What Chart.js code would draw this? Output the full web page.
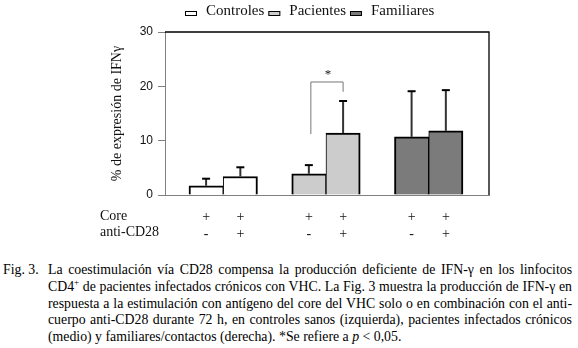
<!DOCTYPE html>
<html>
<head>
<meta charset="utf-8">
<script src="https://cdn.jsdelivr.net/npm/chart.js@4.4.0/dist/chart.umd.min.js"></script>
<style>
  html, body { margin: 0; padding: 0; background: #fff; }
  body { width: 578px; height: 348px; position: relative; overflow: hidden; }
  #wrap { position: absolute; left: 0; top: 0; width: 578px; height: 250px; }
  #caption {
    position: absolute; left: 0; top: 262px; width: 572px;
    font-family: "Liberation Serif", serif; font-size: 13.8px; line-height: 16.8px; color: #000;
  }
  #caption .fig { position: absolute; left: 3px; top: 0; }
  #caption .body { margin-left: 48px; }
  #caption .ln { text-align: justify; text-align-last: justify; white-space: nowrap; }
  #caption .ln.last { text-align-last: left; }
</style>
</head>
<body>
<div id="wrap"><canvas id="grafico"></canvas></div>
<div id="caption">
  <span class="fig">Fig. 3.</span>
  <div class="body">
    <div class="ln">La coestimulación vía CD28 compensa la producción deficiente de IFN-γ en los linfocitos</div>
    <div class="ln">CD4<sup style="font-size:9px;line-height:0">+</sup> de pacientes infectados crónicos con VHC. La Fig. 3 muestra la producción de IFN-γ en</div>
    <div class="ln">respuesta a la estimulación con antígeno del core del VHC solo o en combinación con el anti-</div>
    <div class="ln">cuerpo anti-CD28 durante 72 h, en controles sanos (izquierda), pacientes infectados crónicos</div>
    <div class="ln last">(medio) y familiares/contactos (derecha). *Se refiere a <i>p</i> &lt; 0,05.</div>
  </div>
</div>
<script>
// grupos y condiciones
const grupos = ["Controles", "Pacientes", "Familiares"];
const filas = ["Core", "anti-CD28"];
const marcasCore = ["+", "+"];
const marcasCD28 = ["-", "+"];

// % de expresión de IFNγ (media) y error
const controles = [1.7, 3.4];
const pacientes = [3.9, 11.4];
const familiares = [10.7, 11.8];
const errControles = [1.3, 1.7];
const errPacientes = [1.6, 5.9];
const errFamiliares = [8.4, 7.5];

const yTicks = [0, 10, 20, 30];

// corchete de significación (Pacientes): pata izq, techo, pata der
const sigGrupo = 1;
const sigNiveles = [11.2, 20.8, 19.0];

const colores = ["#ffffff", "#cccccc", "#7b7b7b"];
const serif = "'Liberation Serif', 'Times New Roman', serif";

const series = [controles, pacientes, familiares];
const errores = [errControles, errPacientes, errFamiliares];

// posicion en el eje x: dos barras por grupo y un hueco entre grupos
function posX(g, k) { return 3 * g + k + 1; }

const xPos = [];
grupos.forEach((g, i) => filas.forEach((f, k) => xPos.push(posX(i, k))));

const datasets = grupos.map((g, i) => ({
  label: g,
  data: series[i].map((v, k) => ({ x: posX(i, k), y: v })),
  errores: errores[i],
  backgroundColor: colores[i],
  borderColor: "#000",
  borderWidth: (ctx) => ctx.dataIndex === 0
    ? { top: 2, left: 2, right: 1, bottom: 0 }
    : { top: 2, left: 1, right: 2, bottom: 0 },
  grouped: false,
  barPercentage: 1,
  categoryPercentage: 1
}));

const errorBars = {
  id: "errorBars",
  afterDatasetsDraw(chart) {
    const ctx = chart.ctx;
    const y = chart.scales.y;
    ctx.save();
    chart.data.datasets.forEach((ds, i) => {
      const meta = chart.getDatasetMeta(i);
      meta.data.forEach((bar, k) => {
        const top = y.getPixelForValue(ds.data[k].y + ds.errores[k]);
        ctx.strokeStyle = "#333";
        ctx.lineWidth = 2;
        ctx.beginPath();
        ctx.moveTo(bar.x, bar.y);
        ctx.lineTo(bar.x, top);
        ctx.stroke();
        ctx.strokeStyle = "#000";
        ctx.beginPath();
        ctx.moveTo(bar.x - 4, top);
        ctx.lineTo(bar.x + 4, top);
        ctx.stroke();
      });
    });
    ctx.restore();
  }
};

const marco = {
  id: "marco",
  afterDraw(chart) {
    const { ctx, chartArea: a, scales } = chart;
    ctx.save();
    // borde superior y derecho
    ctx.strokeStyle = "#000";
    ctx.lineWidth = 1.3;
    ctx.beginPath();
    ctx.moveTo(a.left, a.top);
    ctx.lineTo(a.right, a.top);
    ctx.lineTo(a.right, a.bottom);
    ctx.stroke();

    // corchete de significación
    const x1 = scales.x.getPixelForValue(posX(sigGrupo, 0));
    const x2 = scales.x.getPixelForValue(posX(sigGrupo, 1));
    const yL = scales.y.getPixelForValue(sigNiveles[0]);
    const yT = scales.y.getPixelForValue(sigNiveles[1]);
    const yR = scales.y.getPixelForValue(sigNiveles[2]);
    ctx.strokeStyle = "#777";
    ctx.lineWidth = 1;
    ctx.beginPath();
    ctx.moveTo(x1 + 2, yL);
    ctx.lineTo(x1 + 2, yT);
    ctx.lineTo(x2, yT);
    ctx.lineTo(x2, yR);
    ctx.stroke();
    ctx.fillStyle = "#111";
    ctx.font = "13px " + serif;
    ctx.textAlign = "center";
    ctx.textBaseline = "bottom";
    ctx.fillText("*", (x1 + x2) / 2 + 2, yT - 1);

    // etiquetas de filas
    ctx.font = "14px " + serif;
    ctx.textAlign = "left";
    ctx.textBaseline = "top";
    const t = scales.x.top + 14;
    filas.forEach((f, i) => ctx.fillText(f, 100, t + i * 16.8));

    // leyenda
    ctx.font = "15px " + serif;
    ctx.textBaseline = "alphabetic";
    let lx = 185;
    chart.data.datasets.forEach((ds) => {
      ctx.fillStyle = ds.backgroundColor;
      ctx.fillRect(lx, 11, 12, 4);
      ctx.strokeStyle = "#000";
      ctx.lineWidth = 1;
      ctx.strokeRect(lx + 0.5, 11.5, 11, 4);
      lx += 12 + 9;
      ctx.fillStyle = "#111";
      ctx.fillText(ds.label, lx, 15);
      lx += ctx.measureText(ds.label).width + 4;
    });
    ctx.restore();
  }
};

new Chart(document.getElementById("grafico"), {
  type: "bar",
  data: { datasets },
  options: {
    responsive: true,
    maintainAspectRatio: false,
    animation: false,
    layout: { padding: { left: 100, right: 89, top: 32, bottom: 0 } },
    plugins: {
      legend: { display: false },
      tooltip: { enabled: false }
    },
    scales: {
      x: {
        type: "linear",
        min: -0.2,
        max: 9.26,
        offset: false,
        grid: { display: true, offset: false, drawOnChartArea: false, drawTicks: false, color: "#808080" },
        border: { display: true, color: "#808080", width: 1 },
        afterBuildTicks: (scale) => { scale.ticks = xPos.map((v) => ({ value: v })); },
        afterFit: (scale) => { scale.height = 55; },
        ticks: {
          autoSkip: false,
          maxRotation: 0,
          padding: 14,
          color: "#111",
          font: { family: serif, size: 14, lineHeight: 1.2 },
          callback: (value, index) => [marcasCore[index % 2], marcasCD28[index % 2]]
        }
      },
      y: {
        min: 0,
        max: 30,
        afterBuildTicks: (scale) => { scale.ticks = yTicks.map((v) => ({ value: v })); },
        afterFit: (scale) => { scale.width = 65; },
        grid: { display: true, drawOnChartArea: false, drawTicks: true, tickLength: 7, color: "#808080" },
        border: { display: true, color: "#808080", width: 1 },
        ticks: {
          padding: 5,
          color: "#111",
          font: { family: "'Liberation Sans', Arial, sans-serif", size: 12 }
        },
        title: {
          display: true,
          text: "% de expresión de IFNγ",
          color: "#111",
          padding: { top: 9, bottom: 0 },
          font: { family: serif, size: 14, lineHeight: 1.2 }
        }
      }
    }
  },
  plugins: [errorBars, marco]
});
</script>
</body>
</html>
